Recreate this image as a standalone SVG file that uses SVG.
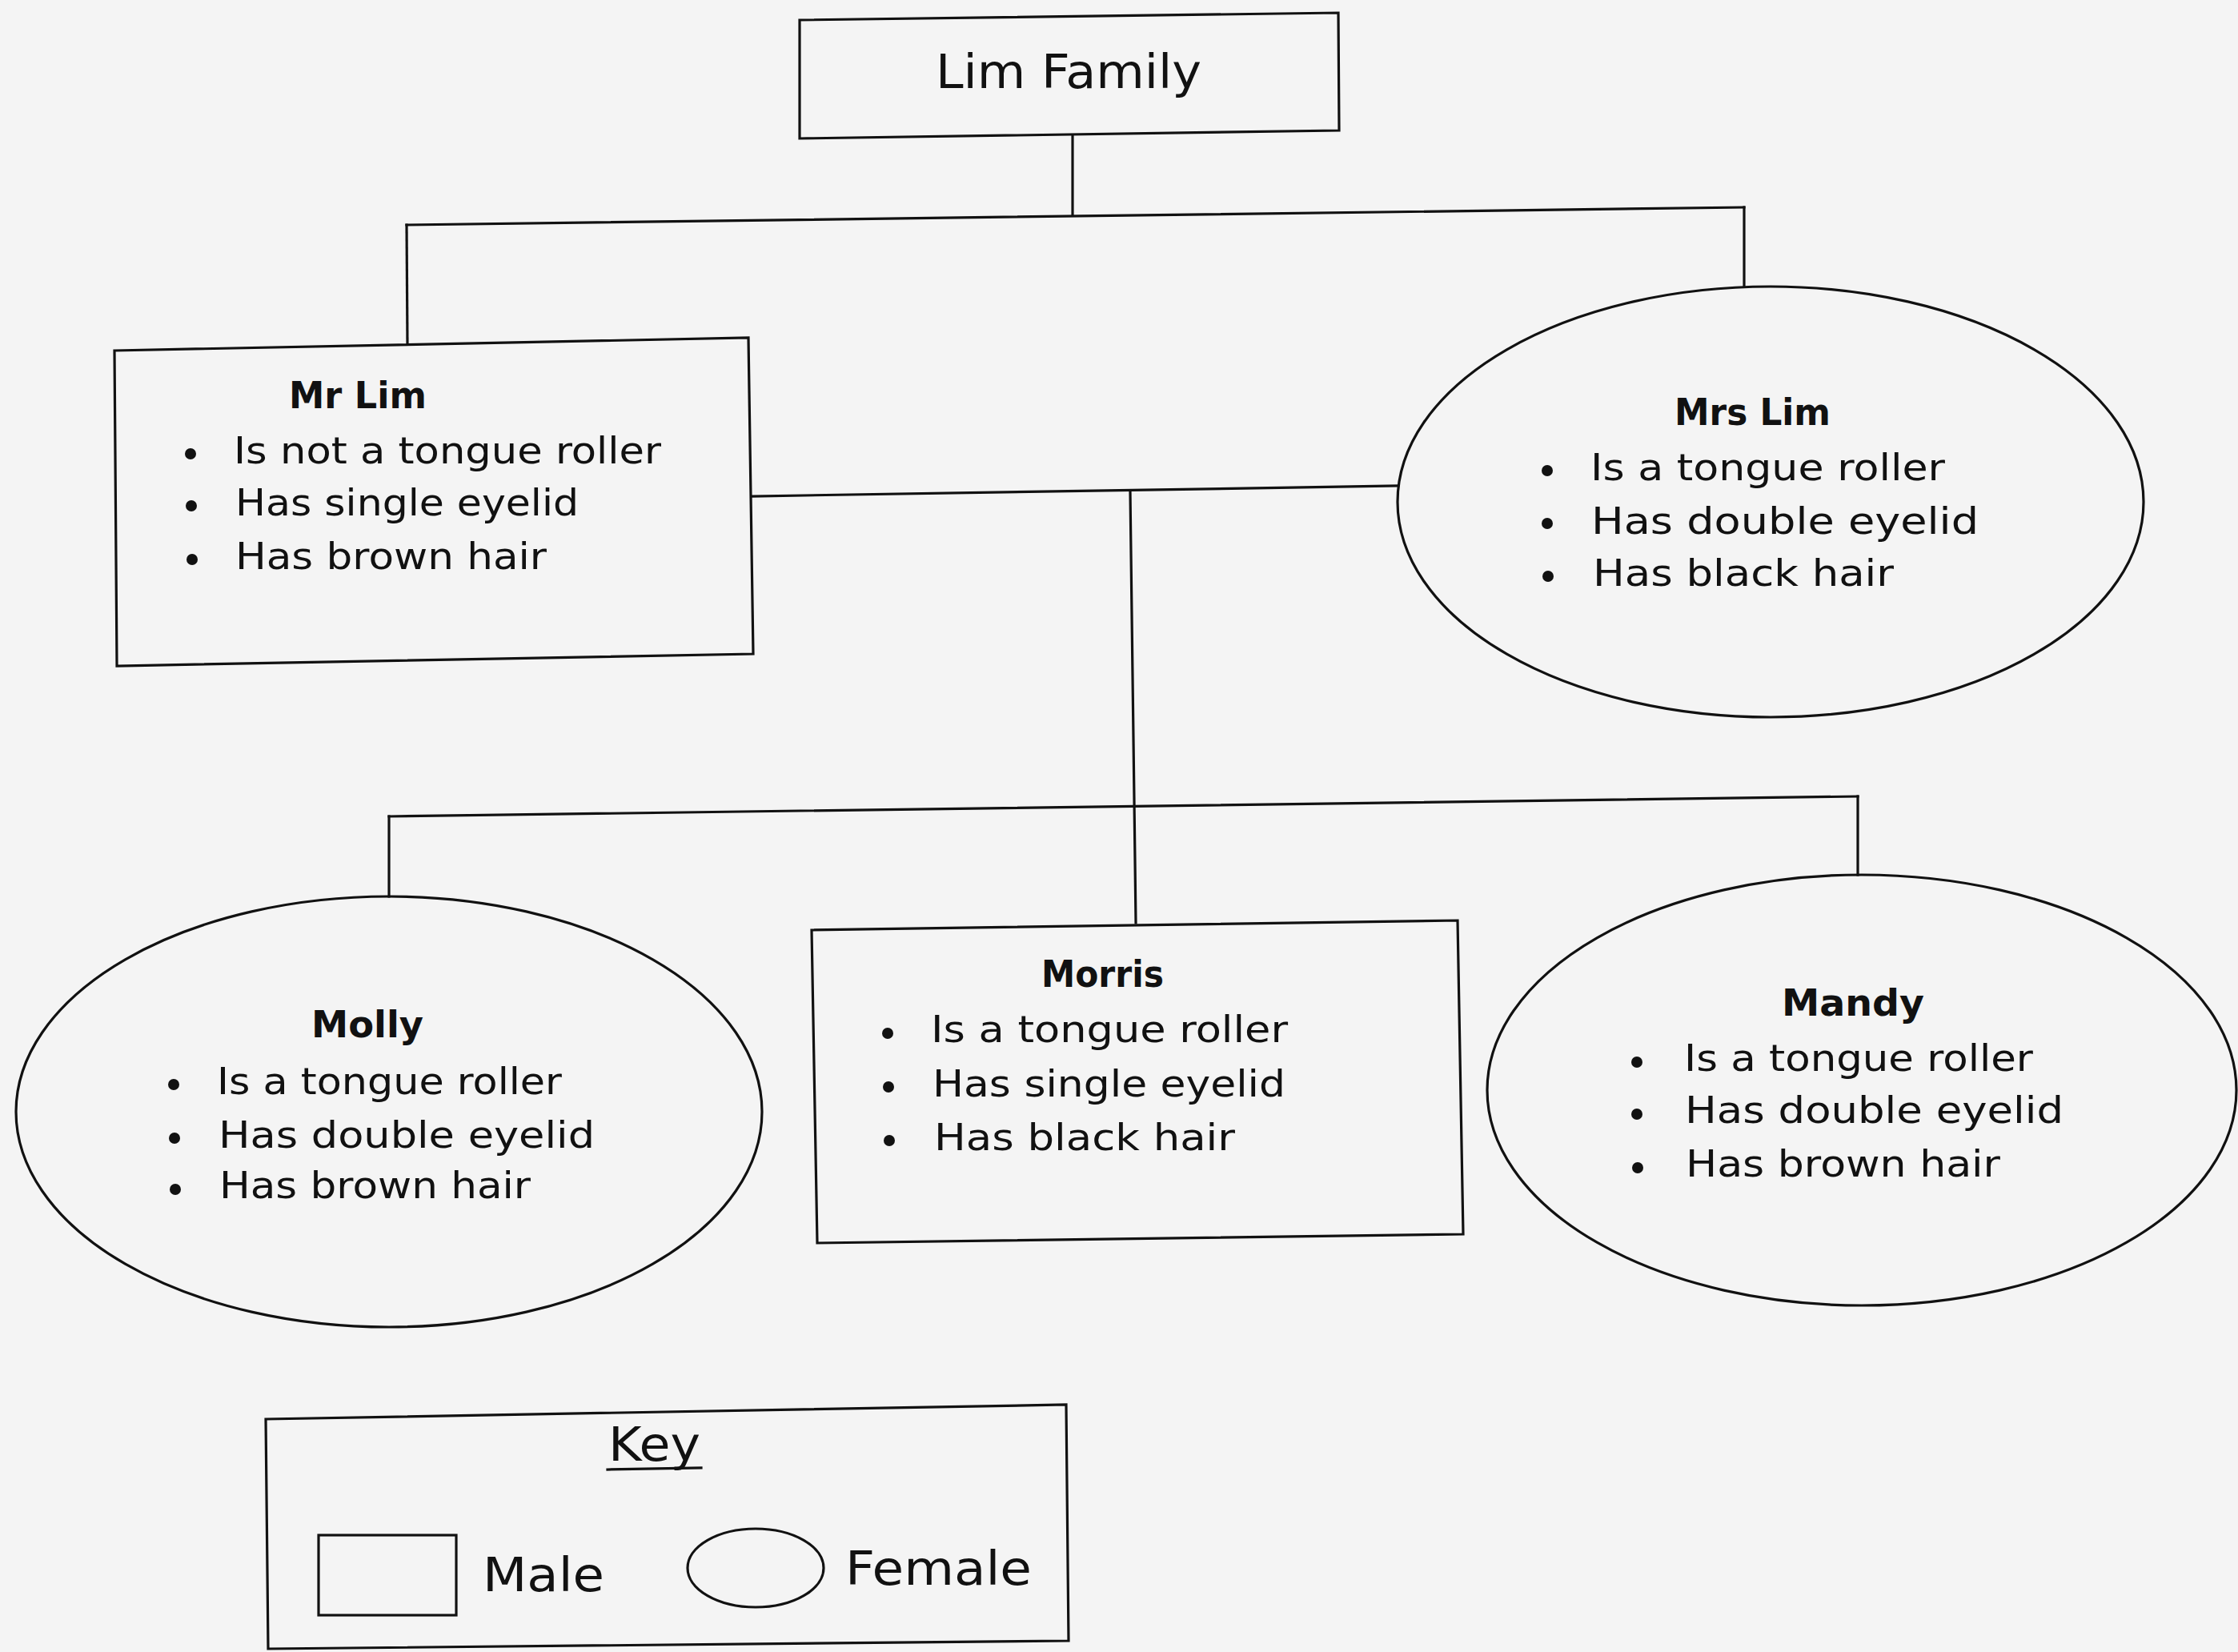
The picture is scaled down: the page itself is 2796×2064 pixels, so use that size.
<svg xmlns="http://www.w3.org/2000/svg" width="2796" height="2064" viewBox="0 0 2796 2064">
<style>
.shape{fill:none;stroke:#111;stroke-width:3.2}
.conn{fill:none;stroke:#111;stroke-width:3.2;stroke-linecap:square}
.t{font-family:"DejaVu Sans","Liberation Sans",sans-serif;font-size:46px;fill:#111}
.b{font-family:"DejaVu Sans","Liberation Sans",sans-serif;font-size:46px;font-weight:bold;fill:#111}
.k{font-family:"DejaVu Sans","Liberation Sans",sans-serif;font-size:58px;fill:#111}
.dot{fill:#111}
</style>
<rect x="0" y="0" width="2796" height="2064" fill="#f4f4f4"/>

<g id="connectors">
<line class="conn" x1="1340" y1="170" x2="1340" y2="268"/>
<line class="conn" x1="508" y1="281" x2="2179" y2="259"/>
<line class="conn" x1="508" y1="281" x2="509" y2="430"/>
<line class="conn" x1="2179" y1="259" x2="2179" y2="358"/>
<line class="conn" x1="940" y1="620" x2="1746" y2="607"/>
<line class="conn" x1="1412" y1="614" x2="1419" y2="1153"/>
<line class="conn" x1="486" y1="1020" x2="2321" y2="995"/>
<line class="conn" x1="486" y1="1020" x2="486" y2="1120"/>
<line class="conn" x1="2321" y1="995" x2="2321" y2="1093"/>
</g>

<g id="lim-family">
<polygon class="shape" points="999,25 1672,16 1673,163 999,173"/>
<text class="k" x="1169" y="110" textLength="332" lengthAdjust="spacingAndGlyphs">Lim Family</text>
</g>

<g id="mr-lim">
<polygon class="shape" points="143,438 935,422 941,817 146,832"/>
<text class="b" x="361" y="510" textLength="172" lengthAdjust="spacingAndGlyphs">Mr Lim</text>
<circle class="dot" cx="238" cy="567" r="7"/>
<circle class="dot" cx="239" cy="632" r="7"/>
<circle class="dot" cx="240" cy="699" r="7"/>
<text class="t" x="292" y="579" textLength="534" lengthAdjust="spacingAndGlyphs">Is not a tongue roller</text>
<text class="t" x="294" y="644" textLength="429" lengthAdjust="spacingAndGlyphs">Has single eyelid</text>
<text class="t" x="294" y="711" textLength="389" lengthAdjust="spacingAndGlyphs">Has brown hair</text>
</g>

<g id="mrs-lim">
<ellipse class="shape" cx="2212" cy="627" rx="466" ry="269"/>
<text class="b" x="2092" y="531" textLength="195" lengthAdjust="spacingAndGlyphs">Mrs Lim</text>
<circle class="dot" cx="1933" cy="588" r="7"/>
<circle class="dot" cx="1933" cy="654" r="7"/>
<circle class="dot" cx="1934" cy="720" r="7"/>
<text class="t" x="1987" y="600" textLength="443" lengthAdjust="spacingAndGlyphs">Is a tongue roller</text>
<text class="t" x="1988" y="667" textLength="484" lengthAdjust="spacingAndGlyphs">Has double eyelid</text>
<text class="t" x="1990" y="732" textLength="376" lengthAdjust="spacingAndGlyphs">Has black hair</text>
</g>

<g id="molly">
<ellipse class="shape" cx="486" cy="1389" rx="466" ry="269"/>
<text class="b" x="389" y="1296" textLength="140" lengthAdjust="spacingAndGlyphs">Molly</text>
<circle class="dot" cx="217" cy="1355" r="7"/>
<circle class="dot" cx="218" cy="1422" r="7"/>
<circle class="dot" cx="219" cy="1486" r="7"/>
<text class="t" x="271" y="1367" textLength="431" lengthAdjust="spacingAndGlyphs">Is a tongue roller</text>
<text class="t" x="273" y="1434" textLength="470" lengthAdjust="spacingAndGlyphs">Has double eyelid</text>
<text class="t" x="274" y="1497" textLength="389" lengthAdjust="spacingAndGlyphs">Has brown hair</text>
</g>

<g id="morris">
<polygon class="shape" points="1014,1162 1821,1150 1828,1542 1021,1553"/>
<text class="b" x="1301" y="1233" textLength="153" lengthAdjust="spacingAndGlyphs">Morris</text>
<circle class="dot" cx="1109" cy="1291" r="7"/>
<circle class="dot" cx="1110" cy="1358" r="7"/>
<circle class="dot" cx="1111" cy="1425" r="7"/>
<text class="t" x="1163" y="1302" textLength="446" lengthAdjust="spacingAndGlyphs">Is a tongue roller</text>
<text class="t" x="1165" y="1370" textLength="441" lengthAdjust="spacingAndGlyphs">Has single eyelid</text>
<text class="t" x="1167" y="1437" textLength="376" lengthAdjust="spacingAndGlyphs">Has black hair</text>
</g>

<g id="mandy">
<ellipse class="shape" cx="2326" cy="1362" rx="468" ry="269"/>
<text class="b" x="2226" y="1269" textLength="178" lengthAdjust="spacingAndGlyphs">Mandy</text>
<circle class="dot" cx="2045" cy="1327" r="7"/>
<circle class="dot" cx="2045" cy="1392" r="7"/>
<circle class="dot" cx="2046" cy="1459" r="7"/>
<text class="t" x="2104" y="1338" textLength="436" lengthAdjust="spacingAndGlyphs">Is a tongue roller</text>
<text class="t" x="2105" y="1403" textLength="473" lengthAdjust="spacingAndGlyphs">Has double eyelid</text>
<text class="t" x="2106" y="1470" textLength="393" lengthAdjust="spacingAndGlyphs">Has brown hair</text>
</g>

<g id="key">
<polygon class="shape" points="332,1773 1332,1755 1335,2050 335,2060"/>
<text class="k" x="760" y="1825" textLength="115" lengthAdjust="spacingAndGlyphs">Key</text>
<line class="conn" x1="759" y1="1836" x2="876" y2="1834" stroke-width="4"/>
<rect class="shape" x="398" y="1918" width="172" height="100"/>
<text class="k" x="603" y="1988" textLength="152" lengthAdjust="spacingAndGlyphs">Male</text>
<ellipse class="shape" cx="944" cy="1959" rx="85" ry="49"/>
<text class="k" x="1056" y="1980" textLength="233" lengthAdjust="spacingAndGlyphs">Female</text>
</g>
</svg>
